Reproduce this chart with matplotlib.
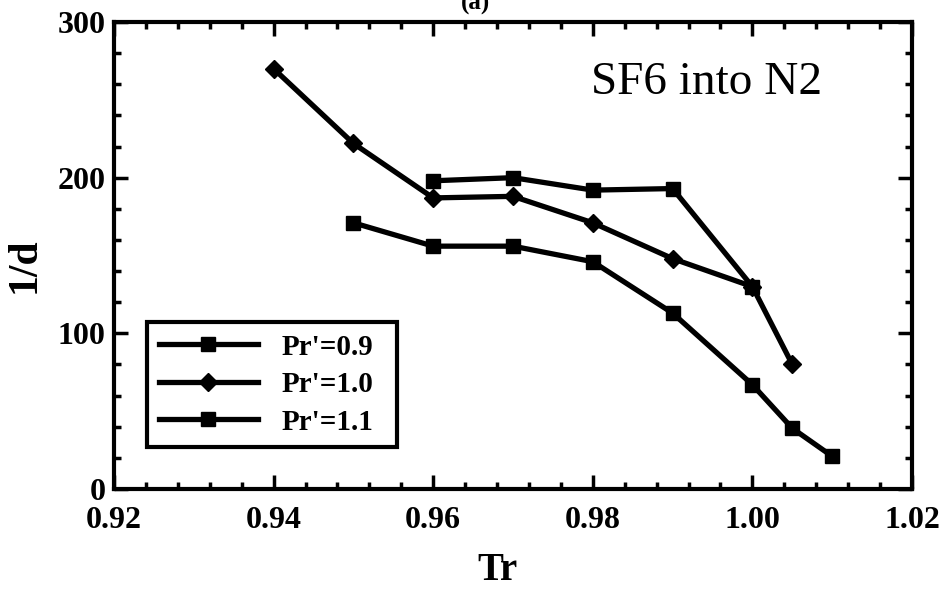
import numpy as np
import matplotlib.pyplot as plt
from matplotlib.ticker import MultipleLocator

# Data
trLow = [0.96, 0.97, 0.98, 0.99, 1.00]
invDLow = [198, 200, 192, 193, 130]

trMid = [0.94, 0.95, 0.96, 0.97, 0.98, 0.99, 1.00, 1.005]
invDMid = [270, 222, 187, 188, 171, 148, 130, 80]

trHigh = [0.95, 0.96, 0.97, 0.98, 0.99, 1.00, 1.005, 1.01]
invDHigh = [171, 156, 156, 146, 113, 67, 39, 21]

seriesLabels = ["Pr'=0.9", "Pr'=1.0", "Pr'=1.1"]
xTicks = [0.92, 0.94, 0.96, 0.98, 1.00, 1.02]
yTicks = [0, 100, 200, 300]

plt.rcParams['font.family'] = ['Liberation Serif', 'DejaVu Serif']

fig = plt.figure(figsize=(9.41, 5.94), dpi=100)
ax = fig.add_axes([114 / 941, 1 - 489 / 594, (912 - 114) / 941, (489 - 22) / 594])

lineStyle = dict(color='black', linewidth=3.8)
ax.plot(trLow, invDLow, marker='s', markersize=10, label=seriesLabels[0], **lineStyle)
ax.plot(trMid, invDMid, marker='D', markersize=9, label=seriesLabels[1], **lineStyle)
ax.plot(trHigh, invDHigh, marker='s', markersize=10, label=seriesLabels[2], **lineStyle)

ax.set_xlim(0.92, 1.02)
ax.set_ylim(0, 300)
ax.set_xticks(xTicks)
ax.set_xticklabels(['%.2f' % t for t in xTicks])
ax.set_yticks(yTicks)
ax.xaxis.set_minor_locator(MultipleLocator(0.004))
ax.yaxis.set_minor_locator(MultipleLocator(20))

# Inward ticks on all four sides, heavy frame
ax.tick_params(which='both', direction='in', top=True, right=True, width=2.5)
ax.tick_params(which='major', length=10)
ax.tick_params(which='minor', length=5)
ax.tick_params(axis='x', which='major', pad=12, labelsize=23)
ax.tick_params(axis='y', which='major', pad=6, labelsize=23)
for label in ax.get_xticklabels() + ax.get_yticklabels():
    label.set_fontweight('bold')
for spine in ax.spines.values():
    spine.set_linewidth(3)

ax.set_xlabel('Tr', fontsize=28, fontweight='bold')
ax.set_ylabel('1/d', fontsize=30, fontweight='bold')
ax.xaxis.set_label_coords(0.48, -0.135)
ax.yaxis.set_label_coords(-0.088, 0.48)

ax.text(0.888, 0.87, 'SF6 into N2', transform=ax.transAxes, ha='right', va='center', fontsize=34)
# Panel tag sits at the very top edge, partly cut as in the source figure
fig.text(0.505, 0.995, '(a)', ha='center', va='center', fontsize=18, fontweight='bold')

legendBox = (147 / 941, 1 - 453 / 594, 250 / 941, 131 / 594)
leg = ax.legend(loc='upper left', bbox_to_anchor=legendBox, mode='expand',
                bbox_transform=fig.transFigure, borderaxespad=0, fancybox=False,
                edgecolor='black', framealpha=1, handlelength=3.4, handletextpad=0.8,
                labelspacing=0.36, borderpad=0.4,
                prop={'family': 'Liberation Serif', 'weight': 'bold', 'size': 21})
leg.get_frame().set_linewidth(3)

fig.savefig('out.png', dpi=100)
